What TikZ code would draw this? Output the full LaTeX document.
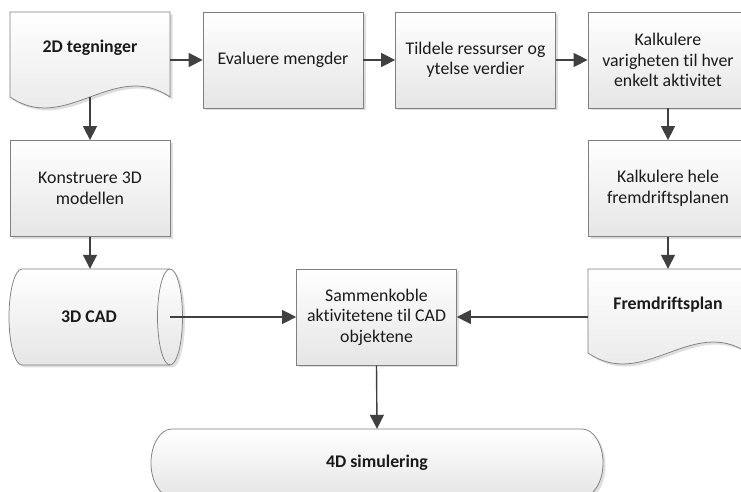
\documentclass[tikz,border=0pt]{standalone}
\usepackage{fontspec}
\setmainfont[Ligatures=NoCommon]{Carlito}
\usetikzlibrary{arrows.meta}

\definecolor{bordc}{HTML}{7F7F7F}
\definecolor{linec}{HTML}{404040}
\definecolor{textc}{HTML}{1A1A1A}
\definecolor{shadc}{HTML}{DEDEDE}

\tikzset{
  x=1pt, y=1pt,
  txt/.style={font=\fontsize{17.8}{20.5}\selectfont},
  btxt/.style={font=\fontsize{17.8}{20.5}\selectfont\bfseries},
  every node/.style={txt, text=textc},
  shaded/.style={draw=bordc, line width=0.75pt, top color=white, bottom color=black!10,
    preaction={fill=shadc, transform canvas={xshift=2.5pt, yshift=-2.5pt}}},
  procbox/.style={shaded, rectangle, minimum width=160pt, minimum height=96pt,
    inner sep=0pt, align=center},
  area/.style={rectangle, minimum width=#1, inner sep=0pt},
  lbl/.style={btxt, align=center, inner sep=0pt},
  arr/.style={draw=linec, line width=1.4pt, -{Triangle[length=14pt, width=14pt]}},
}

\begin{document}
\begin{tikzpicture}
\useasboundingbox (0,0) rectangle (741,492);
\clip (0,0) rectangle (741,492);

% document shape: 2D drawings
\path[shaded] (10,480) -- (170,480) -- (170,395)
  .. controls (114,433) and (66,357) .. (10,395) -- cycle;
\node[area=160pt, minimum height=85pt] (d2) at (90,437.5) {};
\node[lbl] (d2t) at (90,444) {2D tegninger};

% process boxes, top row
\node[procbox] (ev) at (283,432) {Evaluere mengder};
\node[procbox] (ti) at (475.5,432) {Tildele ressurser og\\ytelse verdier};
\node[procbox] (ka) at (668,432) {Kalkulere\\varigheten til hver\\enkelt aktivitet};

% second row
\node[procbox] (ko) at (90,303.5) {Konstruere 3D\\modellen};
\node[procbox] (kh) at (668,303.5) {Kalkulere hele\\fremdriftsplanen};

% stored data (horizontal cylinder): 3D CAD
\path[shaded] (22,223) -- (170,223)
  arc[start angle=90, end angle=-90, x radius=12.5, y radius=48]
  -- (22,127)
  arc[start angle=270, end angle=90, x radius=13, y radius=48] -- cycle;
\draw[draw=bordc, line width=0.75pt] (170,223)
  arc[start angle=90, end angle=270, x radius=12.5, y radius=48];
\node[area=174pt, minimum height=96pt] (cad) at (96,175) {};
\node[lbl] (cadt) at (89,175) {3D CAD};
\coordinate (cadr) at (170,175);

% linking step
\node[procbox] (sam) at (376.5,175) {Sammenkoble\\aktivitetene til CAD\\objektene};

% document shape: schedule
\path[shaded] (588,223) -- (748,223) -- (748,139)
  .. controls (692,177) and (644,101) .. (588,139) -- cycle;
\node[area=160pt, minimum height=84pt] (fp) at (668,181) {};
\node[lbl] (fpt) at (668,187) {Fremdriftsplan};

% terminator: 4D simulation
\path[shaded] (172,63) -- (582,63)
  arc[start angle=90, end angle=-90, x radius=21, y radius=34]
  -- (172,-5)
  arc[start angle=270, end angle=90, x radius=21, y radius=34] -- cycle;
\node[area=452pt, minimum height=68pt] (sim) at (377,29) {};
\node[lbl] (simt) at (377,29) {4D simulering};

% connectors
\draw[arr] (ev.west -| d2.east) -- (ev.west);
\draw[arr] (ev.east) -- (ti.west);
\draw[arr] (ti.east) -- (ka.west);
\draw[arr] (d2.south) -- (ko.north);
\draw[arr] (ko.south) -- (ko.south |- cad.north);
\draw[arr] (ka.south) -- (kh.north);
\draw[arr] (kh.south) -- (fp.north);
\draw[arr] (cadr) -- (sam.west);
\draw[arr] (sam.east -| fp.west) -- (sam.east);
\draw[arr] (sam.south) -- (sim.north);
\end{tikzpicture}
\end{document}
